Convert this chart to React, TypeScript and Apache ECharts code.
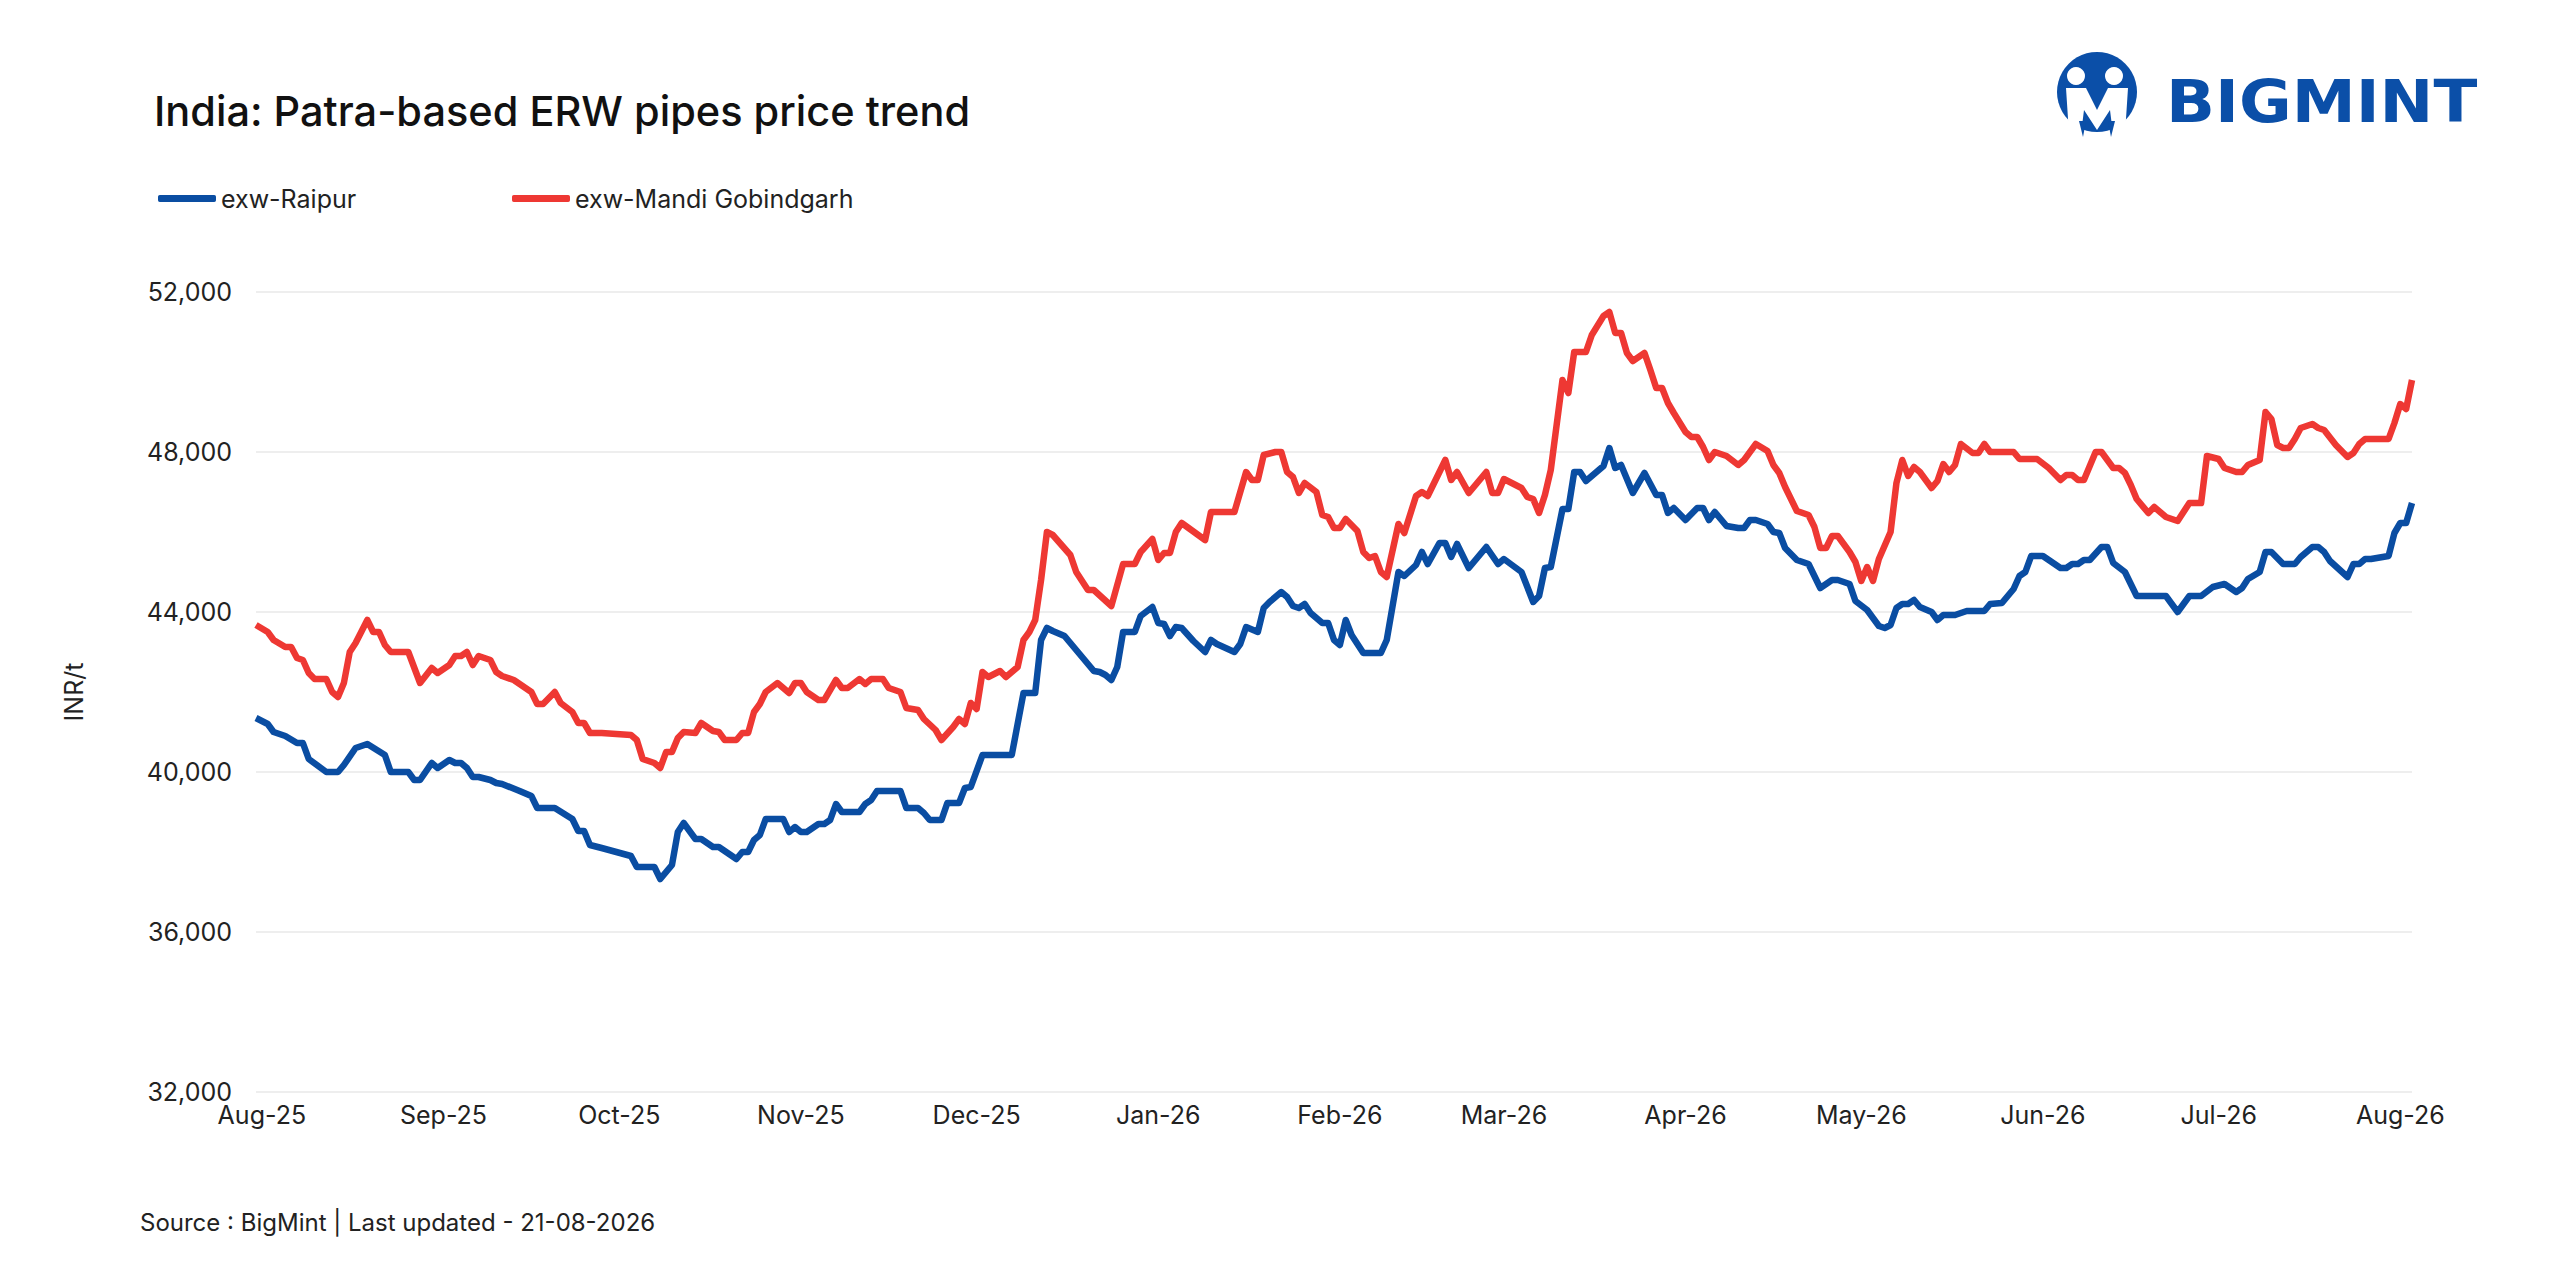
import { useEffect, useRef } from "react";
import * as echarts from "echarts";

// prices in INR/t
const raipur: [string, number][] = [
  ["2025-07-31", 41350], ["2025-08-02", 41200], ["2025-08-03", 41000], ["2025-08-05", 40900],
  ["2025-08-07", 40725], ["2025-08-08", 40725], ["2025-08-09", 40325], ["2025-08-12", 40000],
  ["2025-08-14", 40000], ["2025-08-15", 40175], ["2025-08-17", 40600], ["2025-08-19", 40700],
  ["2025-08-22", 40425], ["2025-08-23", 40000], ["2025-08-26", 40000], ["2025-08-27", 39800],
  ["2025-08-28", 39800], ["2025-08-30", 40225], ["2025-08-31", 40100], ["2025-09-02", 40300],
  ["2025-09-03", 40225], ["2025-09-04", 40225], ["2025-09-05", 40100], ["2025-09-06", 39875],
  ["2025-09-07", 39875], ["2025-09-09", 39800], ["2025-09-10", 39725], ["2025-09-11", 39700],
  ["2025-09-14", 39525], ["2025-09-16", 39400], ["2025-09-17", 39100], ["2025-09-20", 39100],
  ["2025-09-23", 38825], ["2025-09-24", 38525], ["2025-09-25", 38525], ["2025-09-26", 38175],
  ["2025-09-28", 38100], ["2025-10-03", 37900], ["2025-10-04", 37625], ["2025-10-07", 37625],
  ["2025-10-08", 37325], ["2025-10-10", 37675], ["2025-10-11", 38500], ["2025-10-12", 38725],
  ["2025-10-14", 38325], ["2025-10-15", 38325], ["2025-10-17", 38125], ["2025-10-18", 38125],
  ["2025-10-21", 37825], ["2025-10-22", 38000], ["2025-10-23", 38000], ["2025-10-24", 38300],
  ["2025-10-25", 38425], ["2025-10-26", 38825], ["2025-10-29", 38825], ["2025-10-30", 38500],
  ["2025-10-31", 38625], ["2025-11-01", 38500], ["2025-11-02", 38500], ["2025-11-04", 38700],
  ["2025-11-05", 38700], ["2025-11-06", 38800], ["2025-11-07", 39200], ["2025-11-08", 39000],
  ["2025-11-11", 39000], ["2025-11-12", 39200], ["2025-11-13", 39300], ["2025-11-14", 39525],
  ["2025-11-18", 39525], ["2025-11-19", 39100], ["2025-11-21", 39100], ["2025-11-22", 38975],
  ["2025-11-23", 38800], ["2025-11-25", 38800], ["2025-11-26", 39225], ["2025-11-28", 39225],
  ["2025-11-29", 39600], ["2025-11-30", 39625], ["2025-12-02", 40425], ["2025-12-07", 40425],
  ["2025-12-09", 41975], ["2025-12-11", 41975], ["2025-12-12", 43300], ["2025-12-13", 43600],
  ["2025-12-14", 43525], ["2025-12-16", 43400], ["2025-12-18", 43050], ["2025-12-21", 42525],
  ["2025-12-22", 42500], ["2025-12-23", 42425], ["2025-12-24", 42300], ["2025-12-25", 42625],
  ["2025-12-26", 43500], ["2025-12-28", 43500], ["2025-12-29", 43900], ["2025-12-31", 44125],
  ["2026-01-01", 43725], ["2026-01-02", 43700], ["2026-01-03", 43400], ["2026-01-04", 43625],
  ["2026-01-05", 43600], ["2026-01-07", 43275], ["2026-01-09", 43000], ["2026-01-10", 43300],
  ["2026-01-11", 43200], ["2026-01-14", 43000], ["2026-01-15", 43200], ["2026-01-16", 43625],
  ["2026-01-18", 43500], ["2026-01-19", 44100], ["2026-01-20", 44250], ["2026-01-22", 44500],
  ["2026-01-23", 44375], ["2026-01-24", 44150], ["2026-01-25", 44100], ["2026-01-26", 44200],
  ["2026-01-27", 43975], ["2026-01-29", 43725], ["2026-01-30", 43725], ["2026-01-31", 43300],
  ["2026-02-01", 43175], ["2026-02-02", 43800], ["2026-02-03", 43425], ["2026-02-05", 42975],
  ["2026-02-08", 42975], ["2026-02-09", 43300], ["2026-02-11", 45000], ["2026-02-12", 44900],
  ["2026-02-14", 45175], ["2026-02-15", 45500], ["2026-02-16", 45200], ["2026-02-18", 45725],
  ["2026-02-19", 45725], ["2026-02-20", 45375], ["2026-02-21", 45700], ["2026-02-23", 45100],
  ["2026-02-26", 45625], ["2026-02-28", 45200], ["2026-03-01", 45325], ["2026-03-04", 45000],
  ["2026-03-06", 44250], ["2026-03-07", 44400], ["2026-03-08", 45100], ["2026-03-09", 45125],
  ["2026-03-11", 46575], ["2026-03-12", 46575], ["2026-03-13", 47500], ["2026-03-14", 47500],
  ["2026-03-15", 47275], ["2026-03-18", 47650], ["2026-03-19", 48100], ["2026-03-20", 47600],
  ["2026-03-21", 47675], ["2026-03-23", 46975], ["2026-03-25", 47475], ["2026-03-27", 46925],
  ["2026-03-28", 46925], ["2026-03-29", 46475], ["2026-03-30", 46600], ["2026-04-01", 46300],
  ["2026-04-03", 46600], ["2026-04-04", 46600], ["2026-04-05", 46300], ["2026-04-06", 46500],
  ["2026-04-08", 46150], ["2026-04-10", 46100], ["2026-04-11", 46100], ["2026-04-12", 46300],
  ["2026-04-13", 46300], ["2026-04-15", 46200], ["2026-04-16", 46000], ["2026-04-17", 45975],
  ["2026-04-18", 45600], ["2026-04-20", 45300], ["2026-04-22", 45200], ["2026-04-24", 44600],
  ["2026-04-26", 44800], ["2026-04-27", 44800], ["2026-04-29", 44700], ["2026-04-30", 44275],
  ["2026-05-02", 44050], ["2026-05-04", 43650], ["2026-05-05", 43600], ["2026-05-06", 43675],
  ["2026-05-07", 44100], ["2026-05-08", 44200], ["2026-05-09", 44200], ["2026-05-10", 44300],
  ["2026-05-11", 44125], ["2026-05-13", 44000], ["2026-05-14", 43800], ["2026-05-15", 43925],
  ["2026-05-17", 43925], ["2026-05-19", 44025], ["2026-05-22", 44025], ["2026-05-23", 44200],
  ["2026-05-25", 44225], ["2026-05-27", 44575], ["2026-05-28", 44900], ["2026-05-29", 45000],
  ["2026-05-30", 45400], ["2026-06-01", 45400], ["2026-06-04", 45100], ["2026-06-05", 45100],
  ["2026-06-06", 45200], ["2026-06-07", 45200], ["2026-06-08", 45300], ["2026-06-09", 45300],
  ["2026-06-11", 45625], ["2026-06-12", 45625], ["2026-06-13", 45225], ["2026-06-15", 45000],
  ["2026-06-17", 44400], ["2026-06-22", 44400], ["2026-06-24", 44000], ["2026-06-26", 44400],
  ["2026-06-28", 44400], ["2026-06-30", 44625], ["2026-07-02", 44700], ["2026-07-04", 44500],
  ["2026-07-05", 44600], ["2026-07-06", 44825], ["2026-07-08", 45000], ["2026-07-09", 45500],
  ["2026-07-10", 45500], ["2026-07-12", 45200], ["2026-07-14", 45200], ["2026-07-15", 45375],
  ["2026-07-17", 45625], ["2026-07-18", 45625], ["2026-07-19", 45500], ["2026-07-20", 45275],
  ["2026-07-23", 44875], ["2026-07-24", 45200], ["2026-07-25", 45200], ["2026-07-26", 45325],
  ["2026-07-27", 45325], ["2026-07-30", 45400], ["2026-07-31", 45975], ["2026-08-01", 46225],
  ["2026-08-02", 46225], ["2026-08-03", 46725],
];

const mandiGobindgarh: [string, number][] = [
  ["2025-07-31", 43675], ["2025-08-02", 43500], ["2025-08-03", 43300], ["2025-08-05", 43125],
  ["2025-08-06", 43125], ["2025-08-07", 42850], ["2025-08-08", 42800], ["2025-08-09", 42475],
  ["2025-08-10", 42325], ["2025-08-12", 42325], ["2025-08-13", 42000], ["2025-08-14", 41875],
  ["2025-08-15", 42225], ["2025-08-16", 43000], ["2025-08-17", 43225], ["2025-08-19", 43800],
  ["2025-08-20", 43500], ["2025-08-21", 43500], ["2025-08-22", 43175], ["2025-08-23", 43000],
  ["2025-08-26", 43000], ["2025-08-28", 42225], ["2025-08-30", 42600], ["2025-08-31", 42475],
  ["2025-09-02", 42675], ["2025-09-03", 42900], ["2025-09-04", 42900], ["2025-09-05", 43000],
  ["2025-09-06", 42675], ["2025-09-07", 42900], ["2025-09-09", 42800], ["2025-09-10", 42500],
  ["2025-09-11", 42400], ["2025-09-13", 42300], ["2025-09-16", 42000], ["2025-09-17", 41700],
  ["2025-09-18", 41700], ["2025-09-20", 42000], ["2025-09-21", 41725], ["2025-09-23", 41500],
  ["2025-09-24", 41225], ["2025-09-25", 41225], ["2025-09-26", 40975], ["2025-09-28", 40975],
  ["2025-10-03", 40925], ["2025-10-04", 40800], ["2025-10-05", 40325], ["2025-10-07", 40225],
  ["2025-10-08", 40100], ["2025-10-09", 40500], ["2025-10-10", 40500], ["2025-10-11", 40850],
  ["2025-10-12", 41000], ["2025-10-14", 40975], ["2025-10-15", 41225], ["2025-10-17", 41025],
  ["2025-10-18", 41000], ["2025-10-19", 40800], ["2025-10-21", 40800], ["2025-10-22", 40975],
  ["2025-10-23", 40975], ["2025-10-24", 41500], ["2025-10-25", 41700], ["2025-10-26", 42000],
  ["2025-10-28", 42225], ["2025-10-30", 41975], ["2025-10-31", 42225], ["2025-11-01", 42225],
  ["2025-11-02", 42000], ["2025-11-04", 41800], ["2025-11-05", 41800], ["2025-11-07", 42300],
  ["2025-11-08", 42100], ["2025-11-09", 42100], ["2025-11-11", 42325], ["2025-11-12", 42200],
  ["2025-11-13", 42325], ["2025-11-15", 42325], ["2025-11-16", 42100], ["2025-11-18", 42000],
  ["2025-11-19", 41600], ["2025-11-21", 41550], ["2025-11-22", 41325], ["2025-11-24", 41050],
  ["2025-11-25", 40800], ["2025-11-27", 41125], ["2025-11-28", 41325], ["2025-11-29", 41200],
  ["2025-11-30", 41725], ["2025-12-01", 41575], ["2025-12-02", 42500], ["2025-12-03", 42375],
  ["2025-12-05", 42525], ["2025-12-06", 42375], ["2025-12-08", 42625], ["2025-12-09", 43300],
  ["2025-12-10", 43500], ["2025-12-11", 43800], ["2025-12-12", 44800], ["2025-12-13", 46000],
  ["2025-12-14", 45925], ["2025-12-17", 45425], ["2025-12-18", 45000], ["2025-12-20", 44550],
  ["2025-12-21", 44550], ["2025-12-24", 44150], ["2025-12-26", 45200], ["2025-12-28", 45200],
  ["2025-12-29", 45500], ["2025-12-31", 45825], ["2026-01-01", 45300], ["2026-01-02", 45475],
  ["2026-01-03", 45475], ["2026-01-04", 46000], ["2026-01-05", 46225], ["2026-01-09", 45800],
  ["2026-01-10", 46500], ["2026-01-14", 46500], ["2026-01-16", 47500], ["2026-01-17", 47300],
  ["2026-01-18", 47300], ["2026-01-19", 47925], ["2026-01-21", 48000], ["2026-01-22", 48000],
  ["2026-01-23", 47500], ["2026-01-24", 47375], ["2026-01-25", 46975], ["2026-01-26", 47225],
  ["2026-01-28", 47000], ["2026-01-29", 46425], ["2026-01-30", 46375], ["2026-01-31", 46100],
  ["2026-02-01", 46100], ["2026-02-02", 46325], ["2026-02-04", 46025], ["2026-02-05", 45500],
  ["2026-02-06", 45350], ["2026-02-07", 45400], ["2026-02-08", 45000], ["2026-02-09", 44875],
  ["2026-02-11", 46200], ["2026-02-12", 45975], ["2026-02-14", 46900], ["2026-02-15", 47000],
  ["2026-02-16", 46900], ["2026-02-19", 47800], ["2026-02-20", 47300], ["2026-02-21", 47500],
  ["2026-02-23", 46975], ["2026-02-26", 47500], ["2026-02-27", 46975], ["2026-02-28", 46975],
  ["2026-03-01", 47325], ["2026-03-04", 47100], ["2026-03-05", 46875], ["2026-03-06", 46825],
  ["2026-03-07", 46475], ["2026-03-08", 46925], ["2026-03-09", 47550], ["2026-03-11", 49800],
  ["2026-03-12", 49475], ["2026-03-13", 50500], ["2026-03-15", 50500], ["2026-03-16", 50925],
  ["2026-03-18", 51400], ["2026-03-19", 51500], ["2026-03-20", 50975], ["2026-03-21", 50975],
  ["2026-03-22", 50475], ["2026-03-23", 50275], ["2026-03-25", 50475], ["2026-03-26", 50050],
  ["2026-03-27", 49600], ["2026-03-28", 49600], ["2026-03-29", 49225], ["2026-03-30", 48975],
  ["2026-04-01", 48500], ["2026-04-02", 48375], ["2026-04-03", 48375], ["2026-04-04", 48125],
  ["2026-04-05", 47800], ["2026-04-06", 48000], ["2026-04-08", 47900], ["2026-04-10", 47675],
  ["2026-04-11", 47800], ["2026-04-13", 48200], ["2026-04-15", 48025], ["2026-04-16", 47675],
  ["2026-04-17", 47475], ["2026-04-18", 47125], ["2026-04-20", 46525], ["2026-04-22", 46425],
  ["2026-04-23", 46125], ["2026-04-24", 45600], ["2026-04-25", 45600], ["2026-04-26", 45900],
  ["2026-04-27", 45900], ["2026-04-29", 45500], ["2026-04-30", 45250], ["2026-05-01", 44775],
  ["2026-05-02", 45125], ["2026-05-03", 44775], ["2026-05-04", 45325], ["2026-05-06", 46000],
  ["2026-05-07", 47225], ["2026-05-08", 47800], ["2026-05-09", 47400], ["2026-05-10", 47625],
  ["2026-05-11", 47500], ["2026-05-13", 47100], ["2026-05-14", 47275], ["2026-05-15", 47700],
  ["2026-05-16", 47500], ["2026-05-17", 47675], ["2026-05-18", 48200], ["2026-05-20", 47975],
  ["2026-05-21", 47975], ["2026-05-22", 48200], ["2026-05-23", 48000], ["2026-05-27", 48000],
  ["2026-05-28", 47825], ["2026-05-31", 47825], ["2026-06-02", 47600], ["2026-06-04", 47300],
  ["2026-06-05", 47425], ["2026-06-06", 47425], ["2026-06-07", 47300], ["2026-06-08", 47300],
  ["2026-06-10", 48000], ["2026-06-11", 48000], ["2026-06-13", 47600], ["2026-06-14", 47600],
  ["2026-06-15", 47475], ["2026-06-16", 47175], ["2026-06-17", 46825], ["2026-06-19", 46475],
  ["2026-06-20", 46625], ["2026-06-22", 46375], ["2026-06-24", 46275], ["2026-06-26", 46725],
  ["2026-06-28", 46725], ["2026-06-29", 47900], ["2026-07-01", 47825], ["2026-07-02", 47600],
  ["2026-07-04", 47500], ["2026-07-05", 47500], ["2026-07-06", 47675], ["2026-07-08", 47800],
  ["2026-07-09", 49000], ["2026-07-10", 48825], ["2026-07-11", 48175], ["2026-07-12", 48100],
  ["2026-07-13", 48100], ["2026-07-14", 48325], ["2026-07-15", 48600], ["2026-07-17", 48700],
  ["2026-07-18", 48600], ["2026-07-19", 48550], ["2026-07-21", 48175], ["2026-07-23", 47875],
  ["2026-07-24", 47975], ["2026-07-25", 48200], ["2026-07-26", 48325], ["2026-07-30", 48325],
  ["2026-07-31", 48725], ["2026-08-01", 49200], ["2026-08-02", 49075], ["2026-08-03", 49800],
];

const monthTicks = [
  "2025-08-01", "2025-09-01", "2025-10-01", "2025-11-01", "2025-12-01", "2026-01-01",
  "2026-02-01", "2026-03-01", "2026-04-01", "2026-05-01", "2026-06-01", "2026-07-01",
  "2026-08-01",
];
const monthNames = ["Jan", "Feb", "Mar", "Apr", "May", "Jun", "Jul", "Aug", "Sep", "Oct", "Nov", "Dec"];

const BLUE = "#0a4da2";
const RED = "#ee3833";
const LOGO_BLUE = "#0b4fa8";
const FONT = "Inter, 'Liberation Sans', sans-serif";

function toTime(s: string) {
  const [y, m, d] = s.split("-").map(Number);
  return new Date(y, m - 1, d).getTime();
}

function monthLabel(v: number) {
  const d = new Date(v);
  return monthNames[d.getMonth()] + "-" + String(d.getFullYear()).slice(2);
}

function logo(): any[] {
  return [
    { type: "circle", shape: { cx: 2097, cy: 92, r: 40 }, style: { fill: LOGO_BLUE } },
    {
      type: "polygon",
      shape: {
        points: [
          [2066, 88], [2086, 88], [2097, 110], [2108, 88], [2128, 88], [2125, 134],
          [2113, 134], [2110, 110], [2097, 130], [2084, 110], [2081, 134], [2069, 134],
        ],
      },
      style: { fill: "#ffffff" },
    },
    { type: "circle", shape: { cx: 2076, cy: 76, r: 9 }, style: { fill: "#ffffff" } },
    { type: "circle", shape: { cx: 2114, cy: 76, r: 9 }, style: { fill: "#ffffff" } },
    { type: "polygon", shape: { points: [[2079, 121], [2086, 121], [2083, 137]] }, style: { fill: LOGO_BLUE } },
    { type: "polygon", shape: { points: [[2108, 121], [2115, 121], [2111, 137]] }, style: { fill: LOGO_BLUE } },
    {
      type: "text",
      x: 2166,
      y: 102,
      scaleX: 1.09,
      style: {
        text: "BIGMINT",
        fontSize: 59,
        fontWeight: "bold",
        fontFamily: "'DejaVu Sans', sans-serif",
        fill: LOGO_BLUE,
        align: "left",
        verticalAlign: "middle",
        textAlign: "left",
        textVerticalAlign: "middle",
      },
    },
  ];
}

export default function App() {
  const ref = useRef<HTMLDivElement | null>(null);

  useEffect(() => {
    if (!ref.current) return;
    document.body.style.margin = "0";
    const chart = echarts.init(ref.current, null, { renderer: "svg" });

    const legendBase = {
      top: 186,
      padding: 0,
      icon: "roundRect",
      itemWidth: 58,
      itemHeight: 7,
      textStyle: { fontSize: 25, fontFamily: FONT, color: "#222" },
    };

    chart.setOption({
      animation: false,
      backgroundColor: "#ffffff",
      title: {
        text: "India: Patra-based ERW pipes price trend",
        left: 154,
        top: 90,
        padding: 0,
        textStyle: { fontSize: 41.5, fontWeight: 500, fontFamily: FONT, color: "#111" },
      },
      legend: [
        { ...legendBase, left: 158, data: ["exw-Raipur"] },
        { ...legendBase, left: 512, data: ["exw-Mandi Gobindgarh"] },
      ],
      grid: { left: 256, right: 148, top: 292, bottom: 188, containLabel: false },
      xAxis: {
        type: "value",
        min: toTime("2025-07-31"),
        max: toTime("2026-08-03"),
        axisLine: { show: false },
        axisTick: { show: false },
        splitLine: { show: false },
        axisLabel: {
          customValues: monthTicks.map(toTime),
          formatter: (v: number) => monthLabel(v),
          fontSize: 25,
          fontFamily: FONT,
          color: "#222",
          margin: 10,
          hideOverlap: false,
        },
      },
      yAxis: {
        type: "value",
        min: 32000,
        max: 52000,
        interval: 4000,
        name: "INR/t",
        nameLocation: "middle",
        nameRotate: 90,
        nameGap: 170,
        nameTextStyle: { fontSize: 25, fontFamily: FONT, color: "#222" },
        axisLine: { show: false },
        axisTick: { show: false },
        axisLabel: {
          formatter: (v: number) => v.toLocaleString("en-US"),
          fontSize: 25,
          fontFamily: FONT,
          color: "#222",
          margin: 24,
        },
        splitLine: { lineStyle: { color: "#eeeeee", width: 2 } },
      },
      series: [
        {
          name: "exw-Raipur",
          type: "line",
          data: raipur.map(([d, v]) => [toTime(d), v]),
          symbol: "none",
          lineStyle: { color: BLUE, width: 6.5, join: "round" },
          itemStyle: { color: BLUE },
        },
        {
          name: "exw-Mandi Gobindgarh",
          type: "line",
          data: mandiGobindgarh.map(([d, v]) => [toTime(d), v]),
          symbol: "none",
          lineStyle: { color: RED, width: 6.5, join: "round" },
          itemStyle: { color: RED },
        },
      ],
      graphic: [
        {
          type: "text",
          x: 140,
          y: 1222,
          style: {
            text: "Source : BigMint | Last updated - 21-08-2026",
            fontSize: 24,
            fontFamily: FONT,
            fill: "#222",
            align: "left",
            verticalAlign: "middle",
            textAlign: "left",
            textVerticalAlign: "middle",
          },
        },
        ...logo(),
      ],
    });

    return () => {
      chart.dispose();
    };
  }, []);

  return (
    <div
      ref={ref}
      style={{ position: "fixed", left: 0, top: 0, width: "2560px", height: "1280px", background: "#fff" }}
    />
  );
}
